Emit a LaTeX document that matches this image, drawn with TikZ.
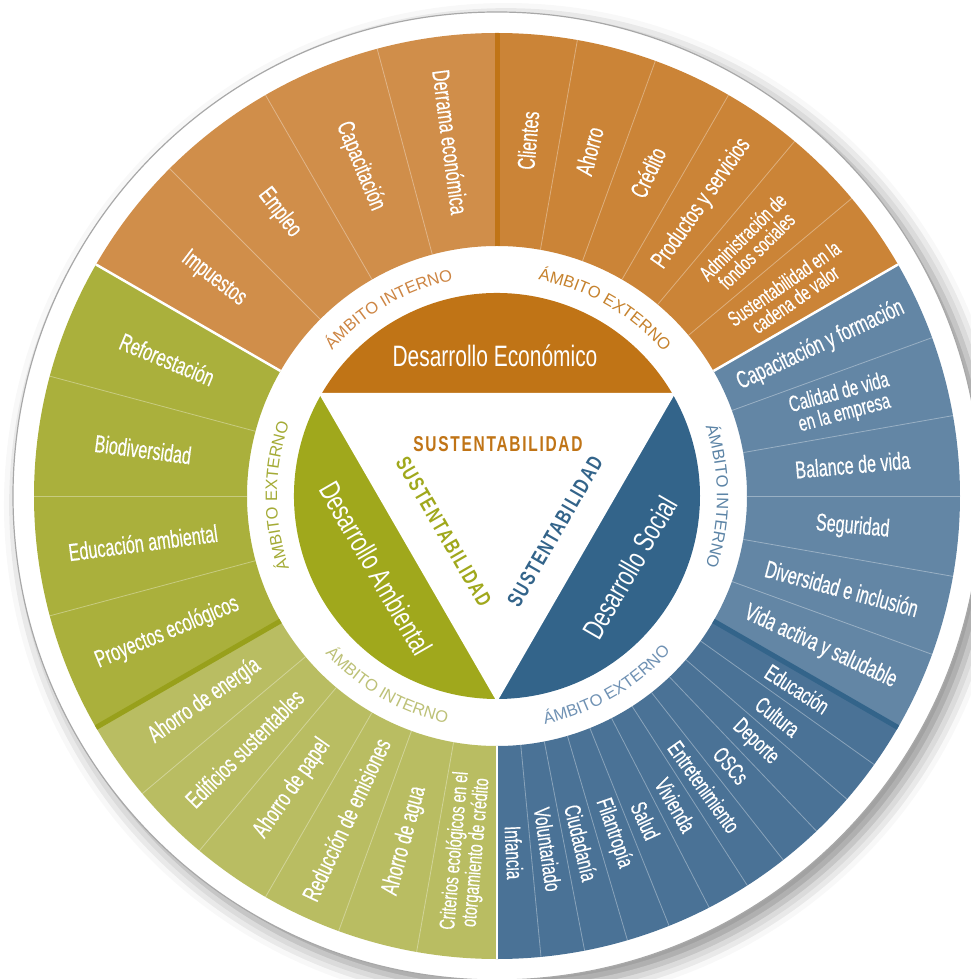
\documentclass[tikz,border=0pt]{standalone}
\usepackage{fontspec}
\setmainfont{Liberation Sans}
\newfontfamily\condfont{Liberation Sans}[FakeStretch=0.66,FakeBold=0.4]
\newfontfamily\corefont{Liberation Sans}[FakeStretch=0.71]
\newfontfamily\sustfont{Liberation Sans}[FakeStretch=0.72,LetterSpace=8]
\newcommand\ringfont{\fontsize{16.5}{16.5}\selectfont}
\usetikzlibrary{decorations.text, shadows.blur}

% region colours
\definecolor{econDark}{HTML}{C07416}
\definecolor{econIn}{HTML}{D08E4A}
\definecolor{econEx}{HTML}{CB8437}
\definecolor{econRing}{HTML}{CD8543}
\definecolor{socDark}{HTML}{33648A}
\definecolor{socIn}{HTML}{6386A5}
\definecolor{socEx}{HTML}{4A7296}
\definecolor{socRing}{HTML}{5C84A6}
\definecolor{socRingEx}{HTML}{7092B4}
\definecolor{ambDark}{HTML}{A0A81C}
\definecolor{ambEx}{HTML}{AAB03C}
\definecolor{ambIn}{HTML}{B9BD62}
\definecolor{ambRing}{HTML}{A4AB36}
\definecolor{ambRingIn}{HTML}{BDC177}
\definecolor{rimGray}{HTML}{A8A8A8}

% radii of the wheel
\def\rCore{203pt}
\def\rWheel{250pt}
\def\rOuter{463pt}
\def\rRim{484pt}
\def\rText{357pt}

\begin{document}
\begin{tikzpicture}[
        core_label/.style={font=\corefont\fontsize{29.5}{29.5}\selectfont, text=white, inner sep=0pt},
        item_label/.style={font=\condfont\fontsize{24.5}{24.5}\selectfont, text=white, align=center, inner sep=0pt},
        double_label/.style={item_label, font=\condfont\fontsize{22.5}{21}\selectfont},
        small_label/.style={item_label, font=\condfont\fontsize{21.5}{19.5}\selectfont},
        narrow_label/.style={item_label, font=\condfont\fontsize{23}{23}\selectfont},
        sust_label/.style={font=\sustfont\bfseries\fontsize{21.5}{21.5}\selectfont, inner sep=0pt},
        sep_line/.style={white, opacity=0.35, line width=0.8pt},
        split_line/.style={line width=5pt},
        border_line/.style={white, line width=2.5pt},
        ring_label/.style 2 args={decorate, decoration={text along path, text align=center, text color=#1, text={|\ringfont|#2}}}
    ]
    \useasboundingbox (-497pt,-483pt) rectangle (473pt,496pt);

    % Outer white rim with its shadow
    \fill[white, draw=rimGray, line width=1.2pt, blur shadow={shadow xshift=9pt, shadow yshift=-9pt, shadow blur radius=18pt, shadow opacity=45}] (0,0) circle[radius=\rRim];

    % Coloured wedges of the wheel
    \foreach \s/\e/\c in {90/150/econIn, 30/90/econEx, -30/30/socIn, -90/-30/socEx, 150/210/ambEx, 210/270/ambIn}
        \fill[\c] (\s:\rWheel) -- (\s:\rOuter) arc[start angle=\s, end angle=\e, radius=\rOuter] -- (\e:\rWheel) arc[start angle=\e, end angle=\s, radius=\rWheel] -- cycle;

    % Thin lines between the items
    \foreach \a in {105, 120, 135, 40, 50, 60, 70, 80, 20, 10, 0, -10, -20, 165, 180, 195, 220, 230, 240, 250, 260}
        \draw[sep_line] (\a:\rWheel) -- (\a:\rOuter);
    \foreach \i in {1,...,10}
        \draw[sep_line] ({-30-\i*60/11}:\rWheel) -- ({-30-\i*60/11}:\rOuter);

    % Interno / externo splits and region borders
    \draw[split_line, econDark] (90:\rWheel) -- (90:\rOuter);
    \draw[split_line, socDark] (-30:\rWheel) -- (-30:\rOuter);
    \draw[split_line, ambDark!95!black] (210:\rWheel) -- (210:\rOuter);
    \foreach \a in {30, 150, 270}
        \draw[border_line] (\a:\rWheel) -- (\a:\rOuter);

    % Core: three segments round the triangle
    \fill[econDark] (30:\rCore) arc[start angle=30, end angle=150, radius=\rCore] -- cycle;
    \fill[socDark] (-90:\rCore) arc[start angle=-90, end angle=30, radius=\rCore] -- cycle;
    \fill[ambDark] (150:\rCore) arc[start angle=150, end angle=270, radius=\rCore] -- cycle;
    \filldraw[border_line, line width=3pt, fill=white] (30:\rCore) -- (150:\rCore) -- (270:\rCore) -- cycle;

    \node[core_label] (econCore) at (-2pt,140pt) {Desarrollo Económico};
    \node[core_label, rotate=60] (socCore) at (-28.4:151pt) {Desarrollo Social};
    \node[core_label, rotate=-60] (ambCore) at (210.8:141pt) {Desarrollo Ambiental};

    \node[sust_label, text=econDark] (econSust) at (1pt,52pt) {SUSTENTABILIDAD};
    \node[sust_label, text=ambDark, rotate=-60] (ambSust) at (213.8:64pt) {SUSTENTABILIDAD};
    \node[sust_label, text=socDark, rotate=60] (socSust) at (-31.5:68pt) {SUSTENTABILIDAD};

    % Ring labels
    \path[ring_label={econRing}{ÁMBITO INTERNO}] (150:220pt) arc[start angle=150, end angle=90, radius=220pt];
    \path[ring_label={econDark!90!white}{ÁMBITO EXTERNO}] (90:220pt) arc[start angle=90, end angle=30, radius=220pt];
    \path[ring_label={socRing}{ÁMBITO INTERNO}] (30:220pt) arc[start angle=30, end angle=-30, radius=220pt];
    \path[ring_label={socRingEx}{ÁMBITO EXTERNO}] (-90:233pt) arc[start angle=-90, end angle=-30, radius=233pt];
    \path[ring_label={ambRing}{ÁMBITO EXTERNO}] (210:220pt) arc[start angle=210, end angle=150, radius=220pt];
    \path[ring_label={ambRingIn}{ÁMBITO INTERNO}] (210:233pt) arc[start angle=210, end angle=270, radius=233pt];

    % Desarrollo Económico items
    \foreach \a/\t/\s [count=\i] in {97.5/Derrama económica/item_label, 112.5/Capacitación/item_label, 127.5/Empleo/item_label, 142.5/Impuestos/item_label}
        \node[\s, rotate=\a-180] (econIn\i) at (\a:\rText) {\t};
    \foreach \a/\t/\s [count=\i] in {85/Clientes/item_label, 75/Ahorro/item_label, 65/Crédito/item_label, 55/Productos y servicios/item_label,
            45/{Administración de\\fondos sociales}/small_label, 35/{Sustentabilidad en la\\cadena de valor}/small_label}
        \node[\s, rotate=\a] (econEx\i) at (\a:\rText) {\t};

    % Desarrollo Social items
    \foreach \a/\t/\s [count=\i] in {25/Capacitación y formación/item_label, 15/{Calidad de vida\\en la empresa}/double_label, 5/Balance de vida/item_label,
            -5/Seguridad/item_label, -15/Diversidad e inclusión/item_label, -25/Vida activa y saludable/item_label}
        \node[\s, rotate=\a] (socIn\i) at (\a:\rText) {\t};
    \foreach \t [count=\i from 0, evaluate=\i as \a using -30-(\i+0.5)*60/11] in {Educación, Cultura, Deporte, OSCs, Entretenimiento,
            Vivienda, Salud, Filantropía, Ciudadanía, Voluntariado, Infancia}
        \node[narrow_label, rotate=\a] (socEx\i) at (\a:\rText) {\t};

    % Desarrollo Ambiental items
    \foreach \a/\t/\s [count=\i] in {157.5/Reforestación/item_label, 172.5/Biodiversidad/item_label, 187.5/Educación ambiental/item_label, 202.5/Proyectos ecológicos/item_label}
        \node[\s, rotate=\a-180] (ambEx\i) at (\a:\rText) {\t};
    \foreach \a/\t/\s [count=\i] in {215/Ahorro de energía/item_label, 225/Edificios sustentables/item_label, 235/Ahorro de papel/item_label,
            245/Reducción de emisiones/item_label, 255/Ahorro de agua/item_label, 265/{Criterios ecológicos en el\\otorgamiento de crédito}/small_label}
        \node[\s, rotate=\a-180] (ambIn\i) at (\a:\rText) {\t};

\end{tikzpicture}
\end{document}
